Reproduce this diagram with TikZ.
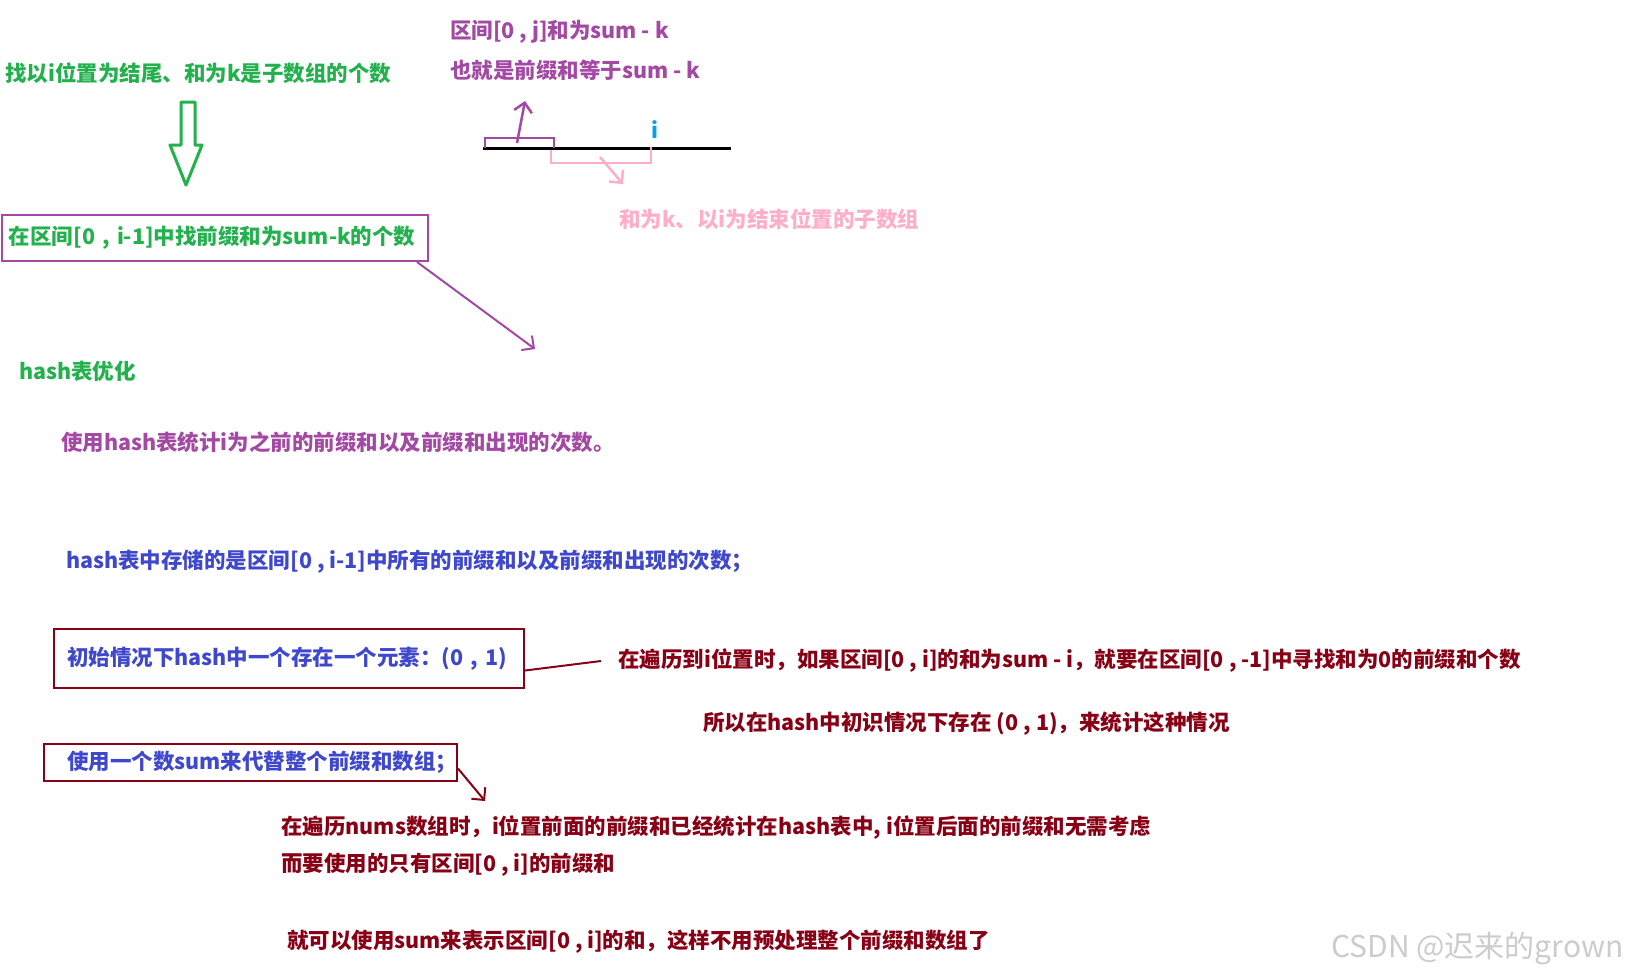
\documentclass[tikz,border=0pt]{standalone}
\usepackage{fontspec}
\newfontfamily\cjk{Noto Sans CJK SC}
\usetikzlibrary{arrows.meta}
\definecolor{pgreen}{RGB}{34,177,76}
\definecolor{ppurple}{RGB}{163,73,164}
\definecolor{pblue}{RGB}{63,72,204}
\definecolor{dred}{RGB}{136,0,21}
\definecolor{ppink}{RGB}{255,174,201}
\definecolor{pcyan}{RGB}{0,162,232}
\begin{document}
\begin{tikzpicture}[x=1pt, y=-1pt,
    >={Straight Barb[length=9pt,width=18pt]},
    txt/.style={anchor=west, inner sep=0pt, font=\cjk\bfseries\fontsize{21.5}{25}\selectfont},
    box/.style={txt, draw, anchor=north west, inner ysep=0pt, align=left, line width=2pt}]
    % Canvas
    \fill[white] (0,0) rectangle (1628,978);
    \useasboundingbox (0,0) rectangle (1628,978);

    % Goal and hollow arrow
    \node[txt, pgreen] (goal) at (5,73) {找以i位置为结尾、和为k是子数组的个数};
    \draw[pgreen, line width=3pt, line join=round]
        (181,102) -- (195,102) -- (195,145) -- (202,145) -- (186,185)
        -- (170,145) -- (181,145) -- cycle;

    % Search box
    \node[box, ppurple, text=pgreen, text width=412pt, inner xsep=7pt,
        minimum height=46pt] (search) at (1,214) {在区间[0 , i-1]中找前缀和为sum-k的个数};
    \coordinate (searchend) at (535,349);
    \draw[->, ppurple, line width=2pt] ([xshift=-12pt]search.south east) -- (searchend);

    % Sketch of the array
    \node[txt, ppurple] (rangej) at (450,32) {区间[0 , j]和为sum - k};
    \node[txt, ppurple] (prefix) at (450,70) {也就是前缀和等于sum - k};
    \draw[line width=3pt] (483,148) -- (731,148);
    \draw[ppurple, line width=2.5pt] (485,148) -- (485,138) -- (554,138) -- (554,148);
    \draw[->, ppurple, line width=2.5pt] (517,143) -- (525,101);
    \draw[ppink, line width=2.5pt] (551,150) -- (551,163) -- (651,163) -- (651,147);
    \draw[->, ppink, line width=2.5pt] (600,157) -- (623,184);
    \node[txt, anchor=center, pcyan] (ipos) at (655,130) {i};
    \node[txt, ppink] (subarr) at (619,219) {和为k、以i为结束位置的子数组};

    % Hash table notes
    \node[txt, pgreen] (hashopt) at (19,371) {hash表优化};
    \node[txt, ppurple] (usehash) at (61,442) {使用hash表统计i为之前的前缀和以及前缀和出现的次数。};
    \node[txt, pblue] (stored) at (66,562) {hash表中存储的是区间[0 , i-1]中所有的前缀和以及前缀和出现的次数；};

    % Initial state
    \node[box, dred, text=pblue, text width=444pt, inner xsep=13pt,
        minimum height=59pt] (init) at (53,628) {初始情况下hash中一个存在一个元素：(0 , 1)};
    \node[txt, dred] (travel) at (618,661) {在遍历到i位置时，如果区间[0 , i]的和为sum - i，就要在区间[0 , -1]中寻找和为0的前缀和个数};
    \node[txt, dred] (sothat) at (703,724) {所以在hash中初识情况下存在 (0 , 1)，来统计这种情况};
    \draw[dred, line width=2pt] ([yshift=-12pt]init.east) -- ([xshift=-17pt]travel.west);

    % Single sum variable
    \node[box, dred, text=pblue, text width=367pt, inner xsep=23pt,
        minimum height=37pt] (onesum) at (43,743) {使用一个数sum来代替整个前缀和数组；};
    \coordinate (onesumend) at (485,801);
    \draw[->, dred, line width=2pt] ([yshift=-6pt]onesum.east) -- (onesumend);
    \node[txt, dred] (nums) at (281,828) {在遍历nums数组时，i位置前面的前缀和已经统计在hash表中, i位置后面的前缀和无需考虑};
    \node[txt, dred] (onlyuse) at (281,865) {而要使用的只有区间[0 , i]的前缀和};
    \node[txt, dred] (sumrep) at (287,942) {就可以使用sum来表示区间[0 , i]的和，这样不用预处理整个前缀和数组了};

    % Watermark
    \node[anchor=west, inner sep=0pt, gray!40, font=\cjk\fontsize{30}{33}\selectfont] (mark) at (1331,949) {CSDN @迟来的grown};
\end{tikzpicture}
\end{document}
